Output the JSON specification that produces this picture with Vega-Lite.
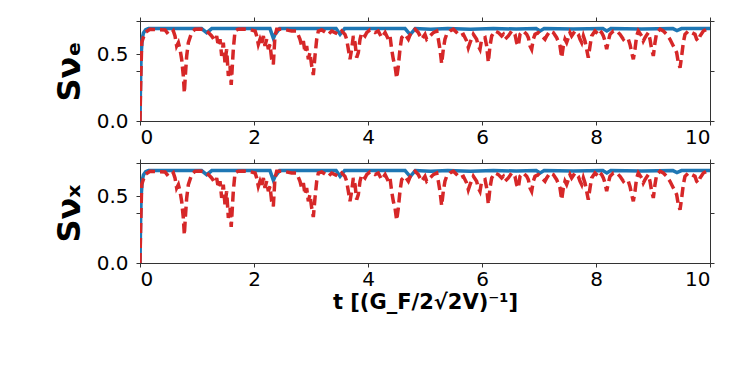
{
  "$schema": "https://vega.github.io/schema/vega-lite/v6.json",
  "padding": {"left": 52, "top": 16, "right": 20, "bottom": 20},
  "spacing": 10,
  "background": "white",
  "datasets": {
    "sb": [
      {"t":0,"S":0},{"t":0.01,"S":0.3},{"t":0.02,"S":0.5},{"t":0.04,"S":0.62},{"t":0.06,"S":0.66},{"t":0.1,"S":0.685},{"t":0.15,"S":0.693},
      {"t":1.08,"S":0.693},{"t":1.17,"S":0.662},{"t":1.26,"S":0.693},{"t":2.28,"S":0.693},{"t":2.34,"S":0.62},{"t":2.37,"S":0.65},{"t":2.45,"S":0.693},
      {"t":3.44,"S":0.693},{"t":3.51,"S":0.65},{"t":3.59,"S":0.693},{"t":4.65,"S":0.693},{"t":4.74,"S":0.648},{"t":4.83,"S":0.693},
      {"t":5.1,"S":0.688},{"t":5.4,"S":0.693},{"t":5.8,"S":0.689},{"t":6.2,"S":0.693},{"t":6.6,"S":0.69},{"t":6.95,"S":0.693},{"t":7.02,"S":0.675},{"t":7.09,"S":0.693},
      {"t":7.6,"S":0.69},{"t":8.12,"S":0.693},{"t":8.19,"S":0.675},{"t":8.26,"S":0.693},{"t":8.8,"S":0.69},{"t":9.35,"S":0.693},{"t":9.42,"S":0.678},{"t":9.5,"S":0.693},{"t":10,"S":0.693}
    ],
    "sr": [
      {"t":0,"S":0},{"t":0.01,"S":0.25},{"t":0.03,"S":0.59},{"t":0.088,"S":0.663},{"t":0.175,"S":0.688},{"t":0.3,"S":0.685},{"t":0.44,"S":0.683},{"t":0.5,"S":0.65},{"t":0.56,"S":0.663},{"t":0.585,"S":0.675},{"t":0.614,"S":0.638},{"t":0.643,"S":0.563},{"t":0.673,"S":0.588},{"t":0.702,"S":0.538},{"t":0.731,"S":0.463},{"t":0.76,"S":0.338},{"t":0.778,"S":0.21},{"t":0.795,"S":0.338},{"t":0.819,"S":0.488},{"t":0.848,"S":0.588},{"t":0.906,"S":0.663},{"t":0.965,"S":0.688},
      {"t":1.05,"S":0.69},{"t":1.14,"S":0.683},{"t":1.2,"S":0.663},{"t":1.257,"S":0.638},{"t":1.316,"S":0.6},{"t":1.345,"S":0.638},{"t":1.374,"S":0.563},{"t":1.404,"S":0.613},{"t":1.433,"S":0.488},{"t":1.462,"S":0.588},{"t":1.491,"S":0.438},{"t":1.52,"S":0.538},{"t":1.55,"S":0.338},{"t":1.579,"S":0.413},{"t":1.6,"S":0.27},{"t":1.637,"S":0.538},{"t":1.667,"S":0.675},{"t":1.72,"S":0.688},{"t":1.81,"S":0.69},{"t":1.93,"S":0.685},
      {"t":2.02,"S":0.675},{"t":2.047,"S":0.638},{"t":2.076,"S":0.575},{"t":2.105,"S":0.613},{"t":2.135,"S":0.575},{"t":2.164,"S":0.638},{"t":2.193,"S":0.563},{"t":2.222,"S":0.613},{"t":2.251,"S":0.538},{"t":2.281,"S":0.575},{"t":2.31,"S":0.463},{"t":2.339,"S":0.425},{"t":2.368,"S":0.638},{"t":2.398,"S":0.688},{"t":2.515,"S":0.688},{"t":2.66,"S":0.675},{"t":2.749,"S":0.675},{"t":2.807,"S":0.613},{"t":2.836,"S":0.563},{"t":2.866,"S":0.6},{"t":2.895,"S":0.513},{"t":2.924,"S":0.563},{"t":2.953,"S":0.463},{"t":2.982,"S":0.513},
      {"t":3.012,"S":0.413},{"t":3.041,"S":0.345},{"t":3.07,"S":0.488},{"t":3.1,"S":0.613},{"t":3.129,"S":0.675},{"t":3.187,"S":0.683},{"t":3.246,"S":0.668},{"t":3.304,"S":0.65},{"t":3.363,"S":0.675},{"t":3.42,"S":0.663},{"t":3.48,"S":0.65},{"t":3.538,"S":0.675},{"t":3.596,"S":0.65},{"t":3.626,"S":0.613},{"t":3.655,"S":0.538},{"t":3.684,"S":0.463},{"t":3.713,"S":0.538},{"t":3.743,"S":0.638},{"t":3.772,"S":0.588},{"t":3.801,"S":0.475},{"t":3.83,"S":0.513},{"t":3.86,"S":0.613},{"t":3.889,"S":0.663},{"t":3.947,"S":0.638},{"t":3.977,"S":0.663},
      {"t":4.035,"S":0.683},{"t":4.123,"S":0.663},{"t":4.18,"S":0.675},{"t":4.24,"S":0.625},{"t":4.3,"S":0.663},{"t":4.357,"S":0.613},{"t":4.386,"S":0.638},{"t":4.415,"S":0.538},{"t":4.444,"S":0.463},{"t":4.474,"S":0.413},{"t":4.503,"S":0.32},{"t":4.532,"S":0.413},{"t":4.561,"S":0.538},{"t":4.591,"S":0.625},{"t":4.649,"S":0.65},{"t":4.708,"S":0.613},{"t":4.766,"S":0.675},{"t":4.825,"S":0.688},{"t":4.883,"S":0.663},{"t":4.942,"S":0.613},
      {"t":5.0,"S":0.65},{"t":5.03,"S":0.613},{"t":5.088,"S":0.638},{"t":5.146,"S":0.663},{"t":5.205,"S":0.675},{"t":5.234,"S":0.613},{"t":5.263,"S":0.538},{"t":5.292,"S":0.43},{"t":5.321,"S":0.538},{"t":5.35,"S":0.613},{"t":5.38,"S":0.65},{"t":5.439,"S":0.675},{"t":5.497,"S":0.688},{"t":5.556,"S":0.663},{"t":5.614,"S":0.638},{"t":5.673,"S":0.65},{"t":5.731,"S":0.6},{"t":5.76,"S":0.55},{"t":5.79,"S":0.588},{"t":5.848,"S":0.65},{"t":5.906,"S":0.613},{"t":5.935,"S":0.563},{"t":5.965,"S":0.538},{"t":5.994,"S":0.613},
      {"t":6.053,"S":0.625},{"t":6.082,"S":0.563},{"t":6.111,"S":0.44},{"t":6.14,"S":0.563},{"t":6.17,"S":0.638},{"t":6.228,"S":0.675},{"t":6.287,"S":0.663},{"t":6.345,"S":0.638},{"t":6.374,"S":0.65},{"t":6.404,"S":0.613},{"t":6.462,"S":0.638},{"t":6.521,"S":0.675},{"t":6.579,"S":0.65},{"t":6.608,"S":0.588},{"t":6.637,"S":0.563},{"t":6.667,"S":0.65},{"t":6.725,"S":0.675},{"t":6.784,"S":0.65},{"t":6.813,"S":0.625},{"t":6.842,"S":0.563},{"t":6.871,"S":0.538},{"t":6.9,"S":0.613},{"t":6.93,"S":0.65},{"t":6.988,"S":0.663},
      {"t":7.047,"S":0.638},{"t":7.105,"S":0.613},{"t":7.135,"S":0.638},{"t":7.193,"S":0.675},{"t":7.251,"S":0.663},{"t":7.31,"S":0.625},{"t":7.368,"S":0.563},{"t":7.398,"S":0.475},{"t":7.427,"S":0.563},{"t":7.456,"S":0.613},{"t":7.485,"S":0.588},{"t":7.515,"S":0.625},{"t":7.544,"S":0.663},{"t":7.573,"S":0.638},{"t":7.632,"S":0.675},{"t":7.69,"S":0.65},{"t":7.72,"S":0.613},{"t":7.749,"S":0.588},{"t":7.778,"S":0.638},{"t":7.807,"S":0.6},{"t":7.836,"S":0.538},{"t":7.865,"S":0.475},{"t":7.895,"S":0.563},{"t":7.924,"S":0.638},{"t":7.982,"S":0.675},
      {"t":8.04,"S":0.65},{"t":8.07,"S":0.675},{"t":8.1,"S":0.663},{"t":8.129,"S":0.638},{"t":8.158,"S":0.6},{"t":8.187,"S":0.538},{"t":8.216,"S":0.6},{"t":8.246,"S":0.65},{"t":8.304,"S":0.675},{"t":8.363,"S":0.675},{"t":8.421,"S":0.65},{"t":8.48,"S":0.613},{"t":8.509,"S":0.625},{"t":8.567,"S":0.613},{"t":8.596,"S":0.575},{"t":8.626,"S":0.513},{"t":8.655,"S":0.463},{"t":8.684,"S":0.538},{"t":8.713,"S":0.638},{"t":8.743,"S":0.675},{"t":8.801,"S":0.638},{"t":8.83,"S":0.6},{"t":8.86,"S":0.625},{"t":8.918,"S":0.663},{"t":8.947,"S":0.613},{"t":8.977,"S":0.538},
      {"t":9.006,"S":0.488},{"t":9.035,"S":0.588},{"t":9.064,"S":0.663},{"t":9.123,"S":0.688},{"t":9.181,"S":0.675},{"t":9.24,"S":0.65},{"t":9.298,"S":0.613},{"t":9.357,"S":0.563},{"t":9.415,"S":0.513},{"t":9.444,"S":0.438},{"t":9.474,"S":0.4},{"t":9.503,"S":0.488},{"t":9.532,"S":0.588},{"t":9.561,"S":0.65},{"t":9.62,"S":0.675},{"t":9.678,"S":0.663},{"t":9.737,"S":0.65},{"t":9.766,"S":0.613},{"t":9.795,"S":0.6},{"t":9.825,"S":0.638},{"t":9.883,"S":0.675},{"t":9.942,"S":0.688},{"t":10,"S":0.69}
    ]
  },
  "vconcat": [
    {
      "width": 570, "height": 100,
      "layer": [
        {
          "data": {"name": "sb"},
          "mark": {"type": "line", "color": "#1f77b4", "strokeWidth": 3.5, "clip": true},
          "encoding": {
            "x": {"field": "t", "type": "quantitative", "scale": {"domain": [0, 10], "nice": false}, "axis": {"orient": "bottom", "values": [0, 2, 4, 6, 8, 10], "format": "d", "title": null, "labelPadding": 2}},
            "y": {"field": "S", "type": "quantitative", "scale": {"domain": [0, 0.75], "nice": false}, "axis": {"orient": "left", "values": [0, 0.375, 0.5, 0.75], "labelExpr": "datum.value == 0 ? '0.0' : (datum.value == 0.5 ? '0.5' : '')", "title": "Sνₑ", "titleFontSize": 32, "titlePadding": 10, "labelPadding": 8}}
          }
        },
        {
          "data": {"name": "sr"},
          "mark": {"type": "line", "color": "#d62728", "strokeWidth": 3.5, "strokeDash": [10, 5], "clip": true},
          "encoding": {
            "x": {"field": "t", "type": "quantitative", "scale": {"domain": [0, 10], "nice": false}, "axis": {"orient": "top", "values": [0, 2, 4, 6, 8, 10], "labels": false, "title": null}},
            "y": {"field": "S", "type": "quantitative", "scale": {"domain": [0, 0.75], "nice": false}, "axis": {"orient": "right", "values": [0, 0.375, 0.75], "labels": false, "title": null}}
          }
        }
      ],
      "resolve": {"axis": {"x": "independent", "y": "independent"}}
    },
    {
      "width": 570, "height": 100,
      "layer": [
        {
          "data": {"name": "sb"},
          "mark": {"type": "line", "color": "#1f77b4", "strokeWidth": 3.5, "clip": true},
          "encoding": {
            "x": {"field": "t", "type": "quantitative", "scale": {"domain": [0, 10], "nice": false}, "axis": {"orient": "bottom", "values": [0, 2, 4, 6, 8, 10], "format": "d", "title": "t [(G_F/2√2V)⁻¹]", "titleFontSize": 21, "titlePadding": 2, "labelPadding": 2}},
            "y": {"field": "S", "type": "quantitative", "scale": {"domain": [0, 0.75], "nice": false}, "axis": {"orient": "left", "values": [0, 0.375, 0.5, 0.75], "labelExpr": "datum.value == 0 ? '0.0' : (datum.value == 0.5 ? '0.5' : '')", "title": "Sνₓ", "titleFontSize": 32, "titlePadding": 10, "labelPadding": 8}}
          }
        },
        {
          "data": {"name": "sr"},
          "mark": {"type": "line", "color": "#d62728", "strokeWidth": 3.5, "strokeDash": [10, 5], "clip": true},
          "encoding": {
            "x": {"field": "t", "type": "quantitative", "scale": {"domain": [0, 10], "nice": false}, "axis": {"orient": "top", "values": [0, 2, 4, 6, 8, 10], "labels": false, "title": null}},
            "y": {"field": "S", "type": "quantitative", "scale": {"domain": [0, 0.75], "nice": false}, "axis": {"orient": "right", "values": [0, 0.375, 0.75], "labels": false, "title": null}}
          }
        }
      ],
      "resolve": {"axis": {"x": "independent", "y": "independent"}}
    }
  ],
  "config": {
    "font": "DejaVu Sans",
    "view": {"stroke": "#333333", "strokeWidth": 1},
    "axis": {
      "grid": false,
      "labelFont": "DejaVu Sans",
      "labelFontSize": 20,
      "labelColor": "#000000",
      "tickColor": "#333333",
      "tickSize": 4,
      "tickWidth": 1,
      "domainColor": "#333333",
      "domainWidth": 1,
      "titleFont": "DejaVu Sans",
      "titleFontWeight": "bold",
      "titleColor": "#000000"
    }
  }
}
